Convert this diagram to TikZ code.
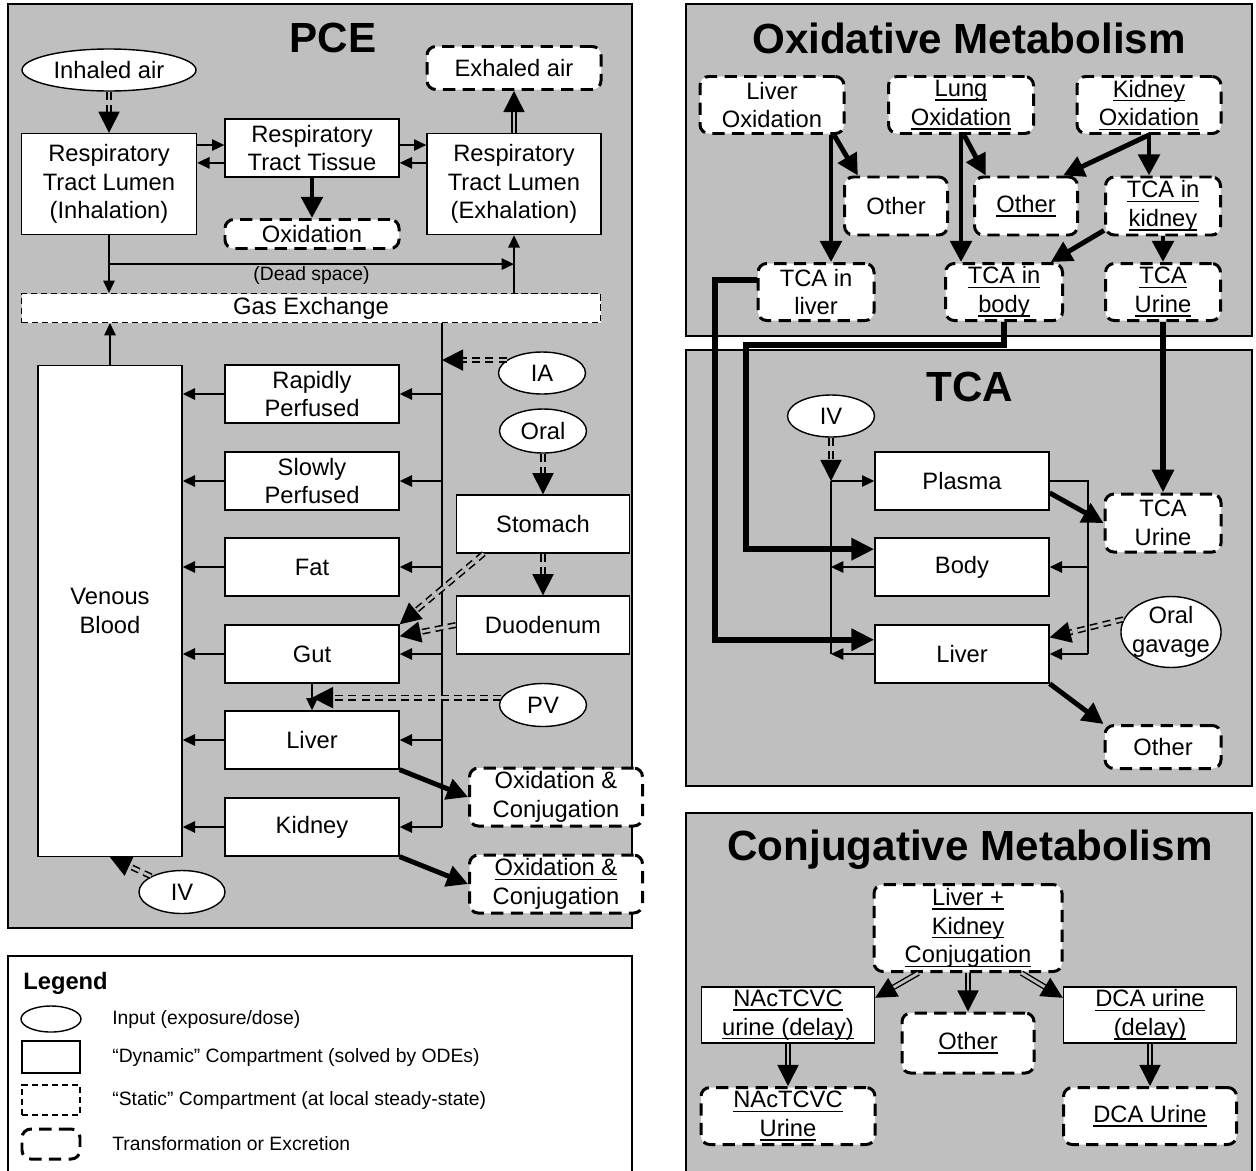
\documentclass[tikz,border=0pt]{standalone}
\usepackage[usenames, dvipsnames, x11names]{xcolor}
\usepackage{fontspec}
\setmainfont{Liberation Sans}
\usepackage{tikz}
\usetikzlibrary{arrows.meta, shapes.geometric}
\usetikzlibrary{calc}

\definecolor{panelgray}{RGB}{191,191,191}
\newcommand{\uln}[1]{\leavevmode\setbox0=\hbox{#1}\rlap{\rule[-2.4pt]{\wd0}{0.8pt}}\box0}
\newcommand{\boxfont}{\fontsize{13.5}{16.4}\selectfont}
\newcommand{\ttlfont}{\fontsize{24}{28}\selectfont\bfseries}
\newcommand{\legfont}{\fontsize{11}{13}\selectfont}

\tikzset{
    wh/.style 2 args={minimum width=#1*0.02cm, minimum height=#2*0.02cm},
    panel/.style={draw, fill=panelgray, line width=0.8pt},
    dyn/.style={draw, fill=white, line width=0.8pt, inner sep=0pt, align=center, font=\boxfont},
    stat/.style={dyn, line width=0.6pt, dash pattern=on 3.5pt off 2.2pt},
    trans/.style={dyn, line width=1.7pt, rounded corners=5pt, dash pattern=on 7pt off 4.2pt},
    inp/.style={dyn, ellipse},
    ttl/.style={font=\ttlfont},
    legtxt/.style={anchor=west, inner sep=0pt, font=\legfont},
    flow/.style={line width=0.8pt, -{Triangle[length=7pt, width=6.5pt]}},
    bigflow/.style={line width=2.8pt, -{Triangle[length=12pt, width=12pt]}},
    route/.style={line width=3.4pt, -{Triangle[length=13pt, width=12pt]}},
    dose/.style={line width=0.9pt, dash pattern=on 0pt off 200pt, -{Triangle[length=12pt, width=12pt]},
        preaction={draw, -, double=panelgray, double distance=1.6pt, dash pattern=on 4.5pt off 3pt, shorten >=10pt}},
    pass/.style={line width=0.8pt, dash pattern=on 0pt off 200pt, -{Triangle[length=12pt, width=12pt]},
        preaction={draw, -, double=panelgray, double distance=1.6pt, solid, shorten >=10pt}}
}

\begin{document}
\begin{tikzpicture}[x=0.02cm, y=-0.02cm]
        \useasboundingbox (0,0) rectangle (1256,1170);

        \draw[panel] (8,4) rectangle (632,928);
        \draw[panel] (686,4) rectangle (1252,336);
        \draw[panel] (686,350) rectangle (1252,786);
        \draw[panel] (686,813) rectangle (1252,1180);
        \draw[line width=0.8pt, fill=white] (8,956) rectangle (632,1180);

        \node[ttl] (pcet) at (333,38) {PCE};
        \node[ttl] (oxt) at (969,38) {Oxidative Metabolism};
        \node[ttl] (tcat) at (970,387) {TCA};
        \node[ttl] (cjt) at (970,850) {Conjugative Metabolism};

        \node[inp, wh={174}{42}] (inhaled) at (109,70) {Inhaled air};
        \node[trans, wh={174}{43}] (exhaled) at (514,68) {Exhaled air};
        \node[dyn, wh={175}{101}] (rtin) at (109,184) {Respiratory\\Tract Lumen\\(Inhalation)};
        \node[dyn, wh={174}{58}] (rtt) at (312,148) {Respiratory\\Tract Tissue};
        \node[dyn, wh={174}{101}] (rtex) at (514,184) {Respiratory\\Tract Lumen\\(Exhalation)};
        \node[trans, wh={174}{29}] (rtox) at (312,234) {Oxidation};
        \node[stat, wh={579}{29}] (gas) at (311,308) {Gas Exchange};
        \node[dyn, wh={144}{491}] (ven) at (110,611) {Venous\\Blood};

        \draw[dose] (inhaled) -- (rtin);
        \draw[pass] (rtex) -- (exhaled);

        \coordinate (tin) at ($(rtt.north west)!0.45!(rtt.south west)$);
        \coordinate (tout) at ($(rtt.north west)!0.75!(rtt.south west)$);
        \coordinate (xin) at ($(rtt.north east)!0.45!(rtt.south east)$);
        \coordinate (xout) at ($(rtt.north east)!0.75!(rtt.south east)$);
        \draw[flow] (tin -| rtin.east) -- (tin);
        \draw[flow] (tout) -- (tout -| rtin.east);
        \draw[flow] (xin) -- (xin -| rtex.west);
        \draw[flow] (xout -| rtex.west) -- (xout);
        \draw[bigflow] (rtt) -- (rtox);

        \coordinate (ds) at ($(rtin.south)!0.5!(rtin.south |- gas.north)$);
        \draw[flow] (rtin.south) -- (rtin.south |- gas.north);
        \draw[flow] (ds) -- (ds -| rtex.south) node[midway, below, inner sep=1pt, font=\legfont] {(Dead space)};
        \draw[flow] (gas.north -| rtex.south) -- (rtex.south);
        \draw[flow] (ven.north) -- (ven.north |- gas.south);

        \coordinate (art) at (442,0 |- gas.south);
        \draw[line width=0.8pt] (art) -- (art |- 0,827);

        \foreach \nm/\yy/\txt in {rap/394/{Rapidly\\Perfused}, slo/481/{Slowly\\Perfused}, fat/567/Fat, gut/654/Gut, liv/740/Liver, kid/827/Kidney} {
            \node[dyn, wh={174}{58}] (\nm) at (312,\yy) {\txt};
            \draw[flow] (\nm.west) -- (\nm.west -| ven.east);
            \draw[flow] (\nm.east -| art) -- (\nm.east);
        }

        \node[inp, wh={87}{42}] (ia) at (542,373) {IA};
        \node[inp, wh={87}{44}] (oral) at (543,431) {Oral};
        \node[dyn, wh={173}{58}] (sto) at (543,524) {Stomach};
        \node[dyn, wh={173}{58}] (duo) at (543,625) {Duodenum};
        \node[inp, wh={87}{43}] (pv) at (543,705) {PV};
        \node[inp, wh={86}{43}] (ivp) at (182,892) {IV};

        \draw[dose] (ia.160) -- (art |- ia.160);
        \draw[dose] (oral) -- (sto);
        \draw[dose] (sto) -- (duo);
        \draw[dose] ($(sto.south west)!0.16!(sto.south east)$) -- (gut.north east);
        \draw[dose] (duo.west) -- ($(gut.north east)!0.2!(gut.south east)$);
        \draw[flow] (gut.south) -- (liv.north);
        \draw[dose] (pv.170) -- (gut.south |- pv.170);
        \draw[dose] (ivp.north west) -- (ven.south);

        \node[trans, wh={173}{58}] (ocl) at (556,797) {Oxidation \&\\Conjugation};
        \node[trans, wh={173}{58}] (ock) at (556,884) {\uln{Oxidation \&}\\Conjugation};
        \draw[bigflow] (liv.south east) -- (ocl.west);
        \draw[bigflow] (kid.south east) -- (ock.west);

        \node[anchor=west, inner sep=0pt, font=\fontsize{13.5}{16}\selectfont\bfseries] (legt) at (23,983) {Legend};
        \node[inp, wh={60}{26}] (lg1) at (51,1019) {};
        \node[dyn, wh={58}{32}] (lg2) at (51,1057) {};
        \node[stat, wh={58}{30}] (lg3) at (51,1100) {};
        \node[trans, wh={58}{30}] (lg4) at (51,1144) {};
        \node[legtxt] (lgt1) at (112,1019) {Input (exposure/dose)};
        \node[legtxt] (lgt2) at (112,1057) {“Dynamic” Compartment (solved by ODEs)};
        \node[legtxt] (lgt3) at (112,1100) {“Static” Compartment (at local steady-state)};
        \node[legtxt] (lgt4) at (112,1144) {Transformation or Excretion};

        \node[trans, wh={144}{57}] (livox) at (772,105) {Liver\\Oxidation};
        \node[trans, wh={145}{57}] (lungox) at (961,105) {\uln{Lung}\\\uln{Oxidation}};
        \node[trans, wh={144}{57}] (kidox) at (1149,105) {\uln{Kidney}\\\uln{Oxidation}};
        \node[trans, wh={103}{58}] (oth1) at (896,206) {Other};
        \node[trans, wh={103}{58}] (oth2) at (1026,206) {\uln{Other}};
        \node[trans, wh={115}{58}] (tcakid) at (1163,206) {\uln{TCA in}\\\uln{kidney}};
        \node[trans, wh={116}{57}] (tcaliv) at (816,292) {TCA in\\liver};
        \node[trans, wh={117}{57}] (tcabody) at (1004,292) {\uln{TCA in}\\\uln{body}};
        \node[trans, wh={115}{57}] (tcaurox) at (1163,292) {\uln{TCA}\\\uln{Urine}};

        \draw[bigflow] (831,0 |- livox.south) -- (831,0 |- tcaliv.north);
        \draw[bigflow] (834,0 |- livox.south) -- ($(oth1.north west)!0.14!(oth1.north east)$);
        \draw[bigflow] (961,0 |- lungox.south) -- (961,0 |- tcabody.north);
        \draw[bigflow] (964,0 |- lungox.south) -- ($(oth2.north west)!0.12!(oth2.north east)$);
        \draw[bigflow] (kidox.south) -- ($(oth2.north west)!0.85!(oth2.north east)$);
        \draw[bigflow] (kidox.south) -- (kidox.south |- tcakid.north);
        \draw[bigflow] ($(tcakid.north west)!0.9!(tcakid.south west)$) -- ($(tcabody.north west)!0.89!(tcabody.north east)$);
        \draw[bigflow] (tcakid) -- (tcaurox);

        \node[inp, wh={87}{42}] (ivt) at (831,416) {IV};
        \node[dyn, wh={174}{58}] (plasma) at (962,481) {Plasma};
        \node[dyn, wh={174}{58}] (tbody) at (962,567) {Body};
        \node[dyn, wh={174}{58}] (tliv) at (962,654) {Liver};
        \node[trans, wh={116}{58}] (turine) at (1163,523) {TCA\\Urine};
        \node[trans, wh={116}{43}] (toth) at (1163,747) {Other};
        \node[inp, wh={100}{71}, inner xsep=-2pt, inner ysep=-1pt] (gavage) at (1171,632) {Oral\\gavage};

        \draw[dose] (ivt) -- (ivt |- plasma.west);
        \draw[flow] (ivt |- plasma.west) -- (plasma.west);
        \draw[line width=0.8pt] (ivt |- plasma.west) -- (ivt |- tliv.west);
        \draw[flow] (tbody.west) -- (tbody.west -| ivt);
        \draw[flow] (tliv.west) -- (tliv.west -| ivt);

        \coordinate (rgt) at (1088,0 |- plasma.east);
        \draw[line width=0.8pt] (plasma.east) -- (rgt) -- (rgt |- tliv.east);
        \draw[flow] (rgt |- tbody.east) -- (tbody.east);
        \draw[flow] (rgt |- tliv.east) -- (tliv.east);

        \draw[bigflow] ($(plasma.north east)!0.7!(plasma.south east)$) -- (turine.west);
        \draw[dose] (gavage.165) -- ($(tliv.north east)!0.22!(tliv.south east)$);
        \draw[bigflow] (tliv.south east) -- (toth.north west);

        \coordinate (r1) at ($(tcaliv.north west)!0.3!(tcaliv.south west)$);
        \coordinate (r1in) at ($(tliv.north west)!0.26!(tliv.south west)$);
        \coordinate (r2in) at ($(tbody.north west)!0.2!(tbody.south west)$);
        \draw[route] (r1) -- (r1 -| 715,0) -- (715,0 |- r1in) -- (r1in);
        \draw[route] (tcabody.south) -- ++(0,23) -| (746,0 |- r2in) -- (r2in);
        \draw[route] (tcaurox) -- (turine);

        \node[trans, wh={188}{87}] (conj) at (968,928) {\uln{Liver +}\\\uln{Kidney}\\\uln{Conjugation}};
        \node[dyn, wh={173}{56}] (nacd) at (788,1015) {\uln{NAcTCVC}\\\uln{urine (delay)}};
        \node[trans, wh={132}{60}] (cjoth) at (968,1043) {\uln{Other}};
        \node[dyn, wh={173}{56}] (dcad) at (1150,1015) {\uln{DCA urine}\\\uln{(delay)}};
        \node[trans, wh={174}{57}] (nacu) at (788,1116) {\uln{NAcTCVC}\\\uln{Urine}};
        \node[trans, wh={173}{57}] (dcau) at (1150,1116) {\uln{DCA Urine}};

        \draw[pass] ($(conj.south west)!0.24!(conj.south east)$) -- ($(nacd.north east)!0.2!(nacd.south east)$);
        \draw[pass] (conj) -- (cjoth);
        \draw[pass] ($(conj.south west)!0.78!(conj.south east)$) -- ($(dcad.north west)!0.2!(dcad.south west)$);
        \draw[pass] (nacd) -- (nacu);
        \draw[pass] (dcad) -- (dcau);

    \end{tikzpicture}
\end{document}
